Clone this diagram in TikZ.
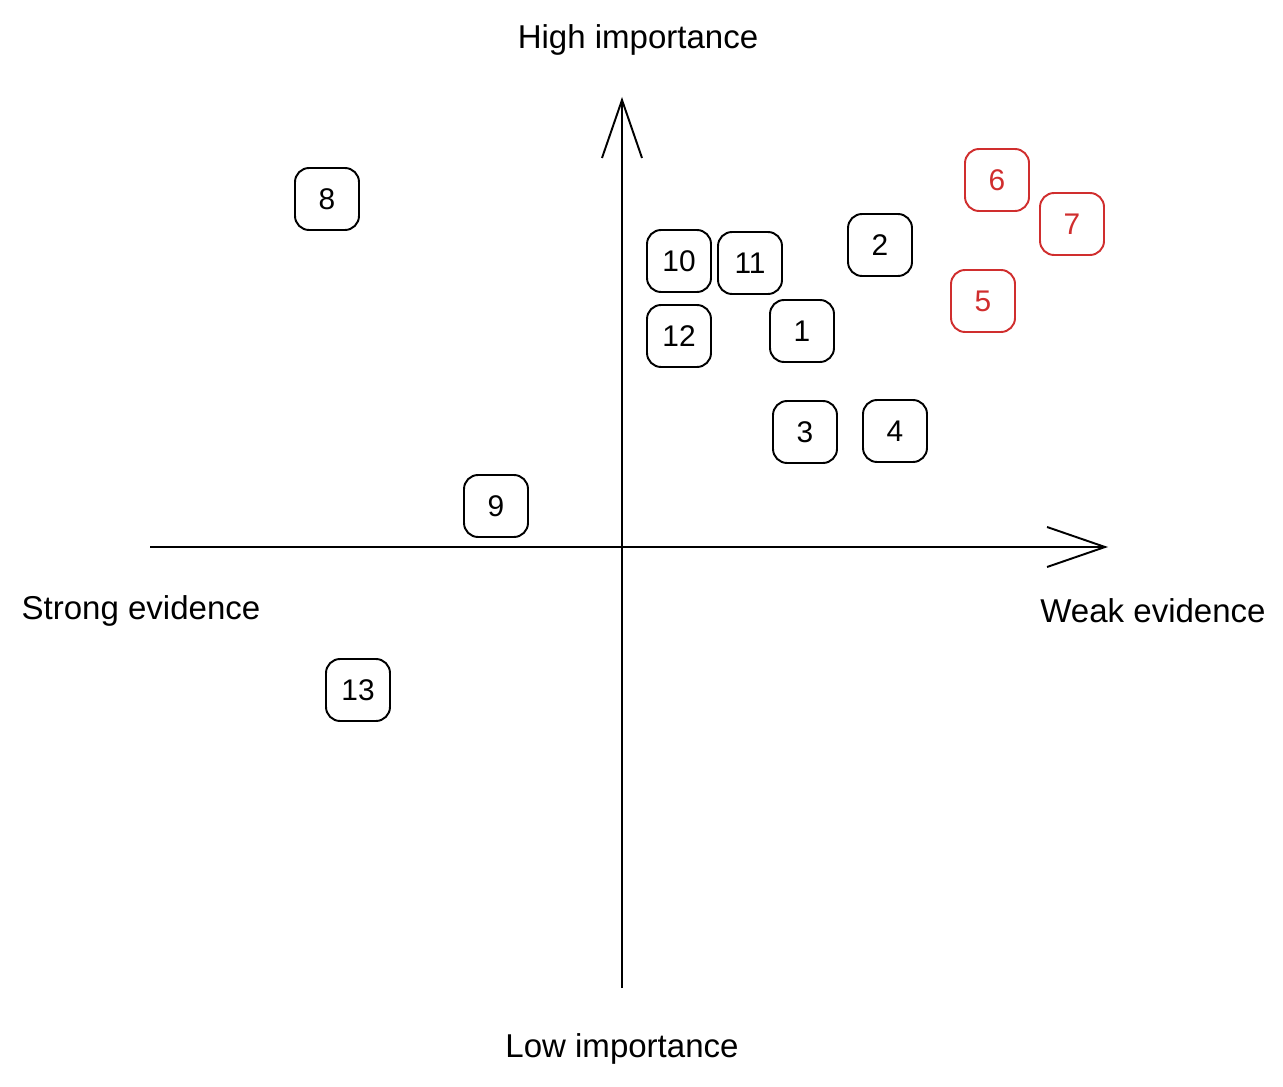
\documentclass[tikz,border=0pt]{standalone}
\usepackage{fontspec}
\setmainfont{Liberation Sans}
\usepackage{tikz}
\usetikzlibrary{arrows.meta,positioning}
\definecolor{sketchred}{RGB}{208,46,46}

\begin{document}
\begin{tikzpicture}[x=0.02cm,y=-0.02cm,line width=1.1pt,
                    >={Straight Barb[length=1.16cm,width=0.8cm,line width=1.1pt]},
                    item/.style={draw,rounded corners=8pt,minimum width=1.28cm,minimum height=1.24cm,
                                 inner sep=0pt,font=\fontsize{17}{19}\selectfont},
                    hot/.style={item,draw=sketchred,text=sketchred},
                    axis label/.style={font=\fontsize{18.8}{22}\selectfont}]
  \useasboundingbox (0,0) rectangle (1283,1087);

  % axes
  \coordinate (left) at (150,547);
  \coordinate (right) at (1108,547);
  \coordinate (bottom) at (622,988);
  \coordinate (top) at (622,97);
  \draw[->] (left) -- (right);
  \draw[->] (bottom) -- (top);

  \node[axis label] (high) at (638,40) {High importance};
  \node[axis label] (low) at (622,1049) {Low importance};
  \node[axis label] (strong) at (141,611) {Strong evidence};
  \node[axis label] (weak) at (1153,611) {Weak evidence};

  % items
  \node[item] (8) at (327,199) {8};
  \node[item] (10) at (679,261) {10};
  \node[item] (11) at (750,263) {11};
  \node[item] (2) at (880,245) {2};
  \node[item] (12) at (679,336) {12};
  \node[item] (1) at (802,331) {1};
  \node[item] (3) at (805,432) {3};
  \node[item] (4) at (895,431) {4};
  \node[item] (9) at (496,506) {9};
  \node[item] (13) at (358,690) {13};

  \node[hot] (6) at (997,180) {6};
  \node[hot] (7) at (1072,224) {7};
  \node[hot] (5) at (983,301) {5};
\end{tikzpicture}
\end{document}
